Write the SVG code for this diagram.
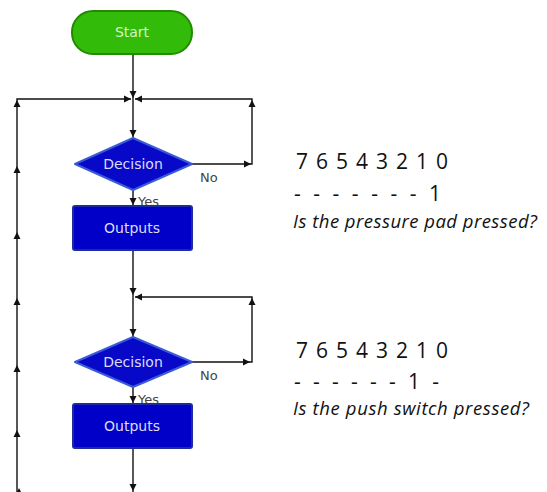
<svg xmlns="http://www.w3.org/2000/svg" xmlns:xlink="http://www.w3.org/1999/xlink" width="547" height="492" viewBox="0 0 547 492">
<style>
.bg{fill:#ffffff}
.term{fill:#33bb0a;stroke:#228a00;stroke-width:2}
.dec{fill:#0808c8;stroke:#3a5ad8;stroke-width:2;stroke-linejoin:round}
.box{fill:#0000c8;stroke:#1c2c9c;stroke-width:2}
.nt{font-family:"DejaVu Sans",Verdana,sans-serif;font-size:14px;text-anchor:middle}
.tw{fill:#dcdcf4}
.tg{fill:#d4f5c0}
.lbl{font-family:"DejaVu Sans",Verdana,sans-serif;font-size:13px;fill:#444}
.ln{fill:none;stroke:#111;stroke-width:1.4}
.ah{fill:#111}
.bits{font-family:"Open Sans","Noto Sans",sans-serif;font-size:21px;fill:#111}
.q{font-family:"Open Sans","Noto Sans",sans-serif;font-size:18.5px;font-style:italic;fill:#111}
</style>
<defs>
<path id="dn" d="M0,0 L-3.5,-7 L3.5,-7 Z"/>
<path id="up" d="M0,0 L-3.5,7 L3.5,7 Z"/>
<path id="rt" d="M0,0 L-7,-3.5 L-7,3.5 Z"/>
<path id="lt" d="M0,0 L7,-3.5 L7,3.5 Z"/>
</defs>
<rect class="bg" width="547" height="492"/>

<g id="connectors">
<path class="ln" d="M133,54 V99"/>
<path class="ln" d="M17,492 V99 H131"/>
<path class="ln" d="M192,164 H252 V99 H135"/>
<path class="ln" d="M133,99 V138"/>
<path class="ln" d="M133,190 V206"/>
<path class="ln" d="M133,250 V297"/>
<path class="ln" d="M192,362 H252 V297 H135"/>
<path class="ln" d="M133,297 V337"/>
<path class="ln" d="M133,387 V404"/>
<path class="ln" d="M133,448 V492"/>
<g class="ah">
<use xlink:href="#dn" x="133" y="98"/>
<use xlink:href="#rt" x="131" y="99"/>
<use xlink:href="#lt" x="135" y="99"/>
<use xlink:href="#dn" x="133" y="137"/>
<use xlink:href="#rt" x="251" y="164"/>
<use xlink:href="#up" x="252" y="100"/>
<use xlink:href="#dn" x="133" y="205"/>
<use xlink:href="#dn" x="133" y="295"/>
<use xlink:href="#lt" x="135" y="297"/>
<use xlink:href="#up" x="252" y="298"/>
<use xlink:href="#rt" x="250" y="362"/>
<use xlink:href="#dn" x="133" y="336"/>
<use xlink:href="#dn" x="133" y="403"/>
<use xlink:href="#dn" x="133" y="491"/>
<use xlink:href="#up" x="17" y="100"/>
<use xlink:href="#up" x="17" y="166"/>
<use xlink:href="#up" x="17" y="232"/>
<use xlink:href="#up" x="17" y="298"/>
<use xlink:href="#up" x="17" y="365"/>
<use xlink:href="#up" x="17" y="430"/>
<use xlink:href="#up" x="19" y="488"/>
</g>
</g>

<g id="start">
<rect class="term" x="72" y="11" width="120" height="43" rx="21" ry="21"/>
<text class="nt tg" x="132" y="37">Start</text>
</g>

<g id="decision1">
<polygon class="dec" points="75,164 133,138 192,164 133,190"/>
<text class="nt tw" x="133" y="169">Decision</text>
<text class="lbl" x="200" y="182">No</text>
<text class="lbl" x="138" y="206">Yes</text>
</g>

<g id="outputs1">
<rect class="box" x="73" y="206" width="119" height="44" rx="2"/>
<text class="nt tw" x="132" y="233">Outputs</text>
</g>

<g id="decision2">
<polygon class="dec" points="75,362 133,337 192,362 133,387"/>
<text class="nt tw" x="133" y="367">Decision</text>
<text class="lbl" x="200" y="380">No</text>
<text class="lbl" x="138" y="404">Yes</text>
</g>

<g id="outputs2">
<rect class="box" x="73" y="404" width="119" height="44" rx="2"/>
<text class="nt tw" x="132" y="431">Outputs</text>
</g>

<g id="note1">
<text class="bits" x="296" y="169" textLength="152" lengthAdjust="spacing">7 6 5 4 3 2 1 0</text>
<text class="bits" x="294" y="201" textLength="147" lengthAdjust="spacing">- - - - - - - 1</text>
<text class="q" x="293" y="228" textLength="244" lengthAdjust="spacing">Is the pressure pad pressed?</text>
</g>

<g id="note2">
<text class="bits" x="296" y="358" textLength="152" lengthAdjust="spacing">7 6 5 4 3 2 1 0</text>
<text class="bits" x="294" y="389" textLength="145" lengthAdjust="spacing">- - - - - - 1 -</text>
<text class="q" x="293" y="415" textLength="236" lengthAdjust="spacing">Is the push switch pressed?</text>
</g>
</svg>
